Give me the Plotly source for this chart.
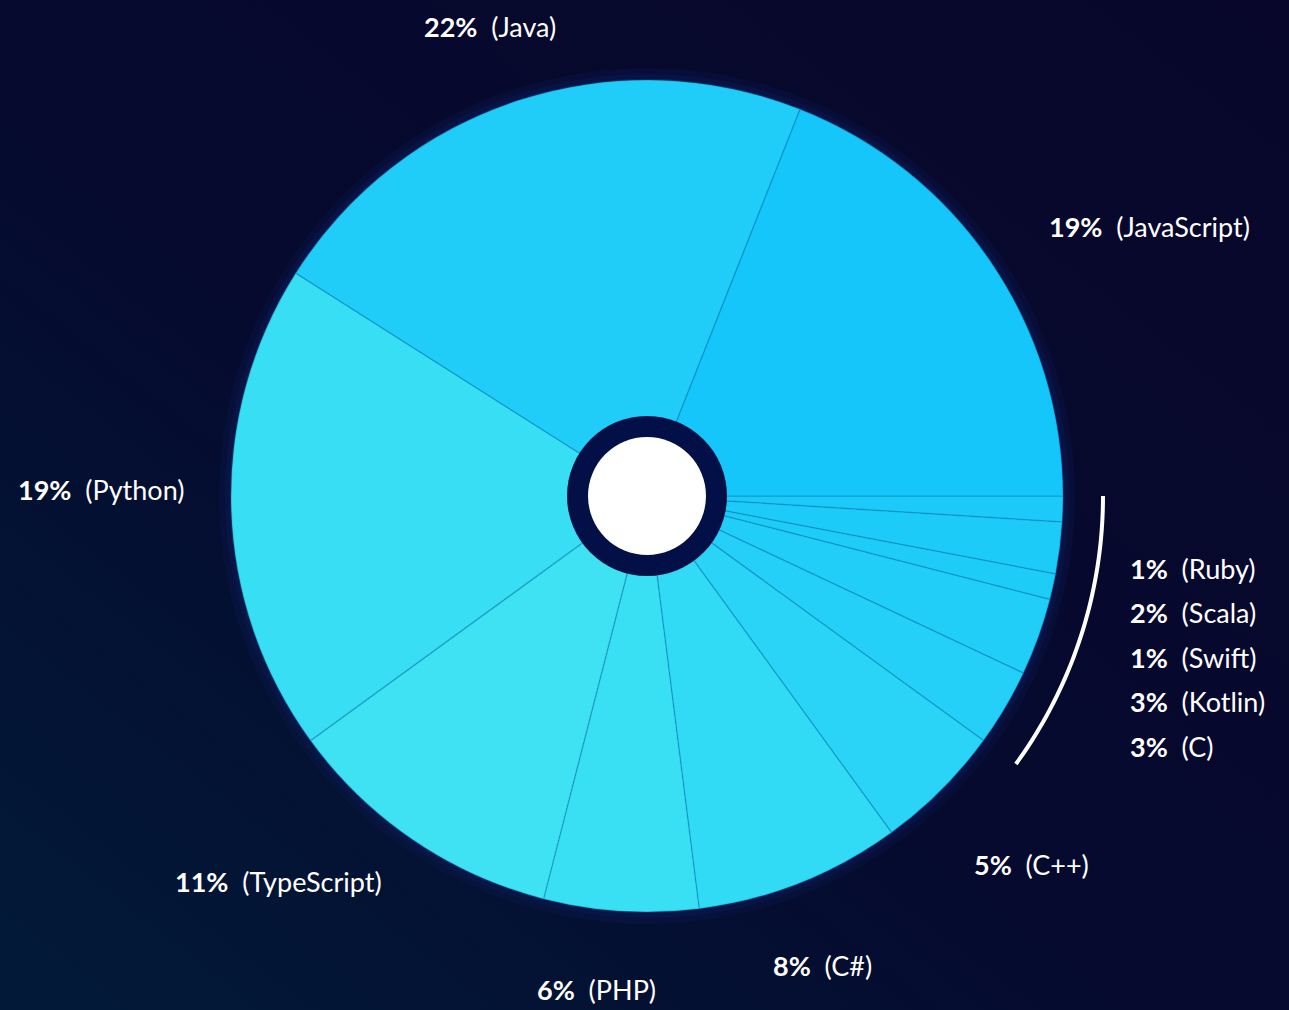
import math
import base64
import plotly.graph_objects as go

# data: share of languages, clockwise from 3 o'clock
languages = ["Ruby", "Scala", "Swift", "Kotlin", "C", "C++", "C#", "PHP",
             "TypeScript", "Python", "Java", "JavaScript"]
shares = [1, 2, 1, 3, 3, 5, 8, 6, 11, 19, 22, 19]
grouped = ["Ruby", "Scala", "Swift", "Kotlin", "C"]  # listed next to the bracket

W, H = 1289, 1010
CX, CY, R = 647, 496, 416      # pie centre / radius in pixels
FONT = "Lato"
# small hand nudges (px) for the outside labels
nudge = {"Java": (-7, -7), "JavaScript": (-2, 4), "Python": (25, -22),
         "TypeScript": (10, -16), "PHP": (-20, 8), "C#": (-3, 18), "C++": (-19, 25)}


def px(x, y):
    # pixel -> paper coords
    return x / W, 1 - y / H


def lerp_hex(c1, c2, t):
    a = [int(c1[i:i + 2], 16) for i in (1, 3, 5)]
    b = [int(c2[i:i + 2], 16) for i in (1, 3, 5)]
    return "#" + "".join(f"{round(a[k] + (b[k] - a[k]) * t):02x}" for k in range(3))


# colour of each slice taken from a diagonal gradient (top-right -> bottom-left)
total = sum(shares)
mids, colors = [], []
cum = 0
for v in shares:
    mid = (cum + v / 2) / total * 2 * math.pi
    mids.append(mid)
    dx, dy = math.cos(mid) * 0.6, math.sin(mid) * 0.6
    t = ((-dx + dy) / math.sqrt(2) + 1) / 2
    colors.append(lerp_hex("#06bcfc", "#4cecf0", min(max(t, 0), 1)))
    cum += v

fig = go.Figure(go.Pie(
    labels=languages, values=shares, sort=False,
    direction="clockwise", rotation=90,
    hole=0.19, textinfo="none", hoverinfo="label+percent",
    marker=dict(colors=colors, line=dict(color="rgba(0,110,170,0.28)", width=1.5)),
    domain=dict(x=[(CX - R) / W, (CX + R) / W], y=[1 - (CY + R) / H, 1 - (CY - R) / H]),
    showlegend=False,
))

# labels for the large slices, placed along each slice's mid angle
LR = 486
for name, v, a in zip(languages, shares, mids):
    if name in grouped:
        continue
    ndx, ndy = nudge.get(name, (0, 0))
    x, y = px(CX + LR * math.cos(a) + ndx, CY + LR * math.sin(a) + ndy)
    c = math.cos(a)
    anchor = "left" if c > 0.4 else ("right" if c < -0.4 else "center")
    fig.add_annotation(x=x, y=y, xref="paper", yref="paper", showarrow=False,
                       xanchor=anchor, yanchor="middle",
                       text=f"<b>{v}%</b>  ({name})",
                       font=dict(family=FONT, size=27, color="white"))

# grouped small slices: bracket arc + list
g_end = sum(v for n, v in zip(languages, shares) if n in grouped) / total * 2 * math.pi
AR = 456
pts = [px(CX + AR * math.cos(g_end * i / 40), CY + AR * math.sin(g_end * i / 40)) for i in range(41)]
path = "M " + " L ".join(f"{x:.5f},{y:.5f}" for x, y in pts)
shapes = [dict(type="path", path=path, xref="paper", yref="paper",
               line=dict(color="white", width=4))]

for i, name in enumerate(grouped):
    v = shares[languages.index(name)]
    x, y = px(CX + 481, CY + 72 + 44.6 * i)
    fig.add_annotation(x=x, y=y, xref="paper", yref="paper", showarrow=False,
                       xanchor="left", yanchor="middle",
                       text=f"<b>{v}%</b>  ({name})",
                       font=dict(family=FONT, size=27, color="white"))

# soft halo under the pie and the centre dot
cx, cy = px(CX, CY)
for r, fill, layer in [(428, "rgba(14,30,95,0.22)", "below"),
                       (422, "rgba(14,30,95,0.30)", "below"),
                       (80, "#031048", "above"), (59, "white", "above")]:
    shapes.append(dict(type="circle", xref="paper", yref="paper",
                       xsizemode="pixel", ysizemode="pixel", xanchor=cx, yanchor=cy,
                       x0=-r, x1=r, y0=-r, y1=r, fillcolor=fill,
                       line=dict(width=0), layer=layer))

# background gradient as an inline svg
svg = f"""<svg xmlns='http://www.w3.org/2000/svg' width='{W}' height='{H}'>
<defs><linearGradient id='g' x1='0' y1='1' x2='1' y2='0'>
<stop offset='0' stop-color='#021a38'/><stop offset='0.45' stop-color='#050a2e'/>
<stop offset='1' stop-color='#08072b'/></linearGradient></defs>
<rect width='{W}' height='{H}' fill='url(#g)'/></svg>"""
bg = "data:image/svg+xml;base64," + base64.b64encode(svg.encode()).decode()

fig.update_layout(
    width=W, height=H, margin=dict(l=0, r=0, t=0, b=0),
    paper_bgcolor="#060829", plot_bgcolor="#060829",
    shapes=shapes,
    images=[dict(source=bg, xref="paper", yref="paper", x=0, y=1, sizex=1, sizey=1,
                 xanchor="left", yanchor="top", sizing="stretch", layer="below")],
    font=dict(family=FONT, color="white"),
)

# drop the default page margin so the figure fills the window
fig.write_html("out.html", config={"displayModeBar": False},
               post_script="document.body.style.margin='0';document.body.style.overflow='hidden';")
